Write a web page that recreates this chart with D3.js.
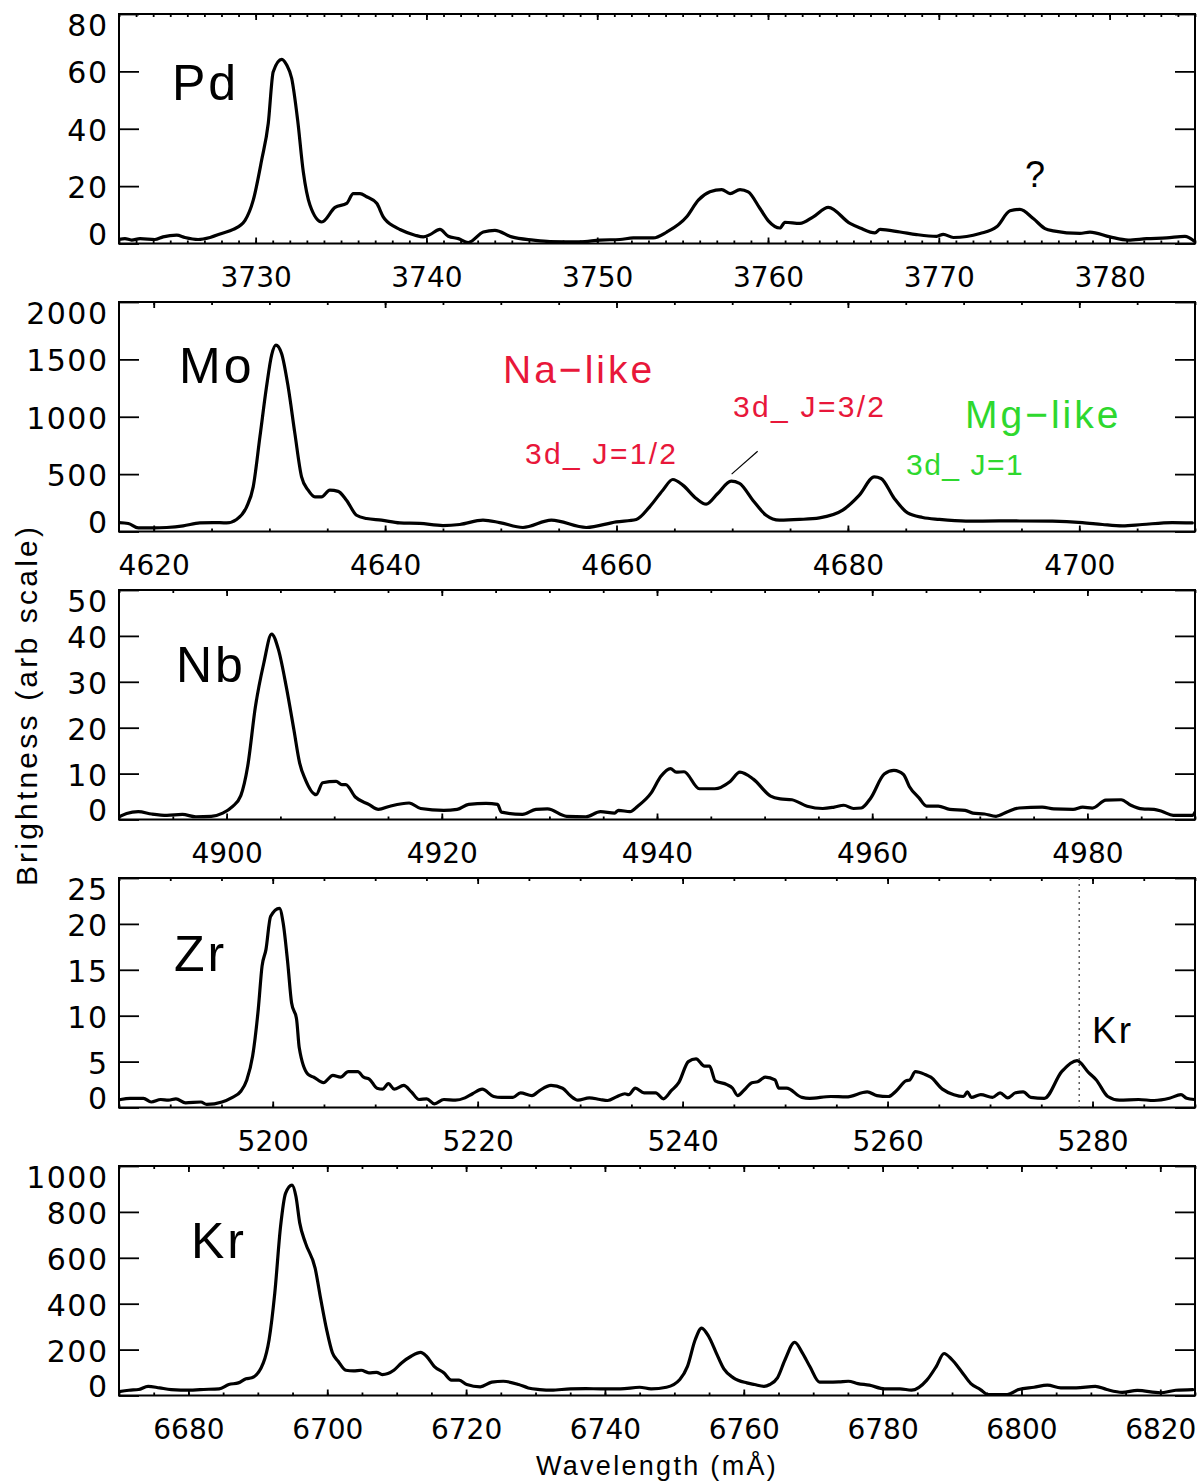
<!DOCTYPE html>
<html><head><meta charset="utf-8">
<script src="https://cdn.jsdelivr.net/npm/d3@7"></script>
<style>
html,body{margin:0;padding:0;background:#fff;}
svg{display:block;}
text{font-family:"Liberation Sans",Arial,sans-serif;fill:#000;}
.num{font-family:"DejaVu Sans","Liberation Sans",sans-serif;}
</style></head><body><svg id="chart" width="1203" height="1484"></svg>
<script>
// ---------------- data (wavelength in mÅ, brightness arb.) ----------------
const pdSpectrum = [[3722.0,1.4],[3722.35,1.7],[3722.74,1.2],[3723.23,1.7],[3724.1,1.4],[3724.58,2.3],[3725.38,2.9],[3725.86,2.1],[3726.63,1.4],[3727.33,2.1],[3728.01,3.5],[3728.69,4.9],[3729.38,8.1],[3729.86,15.1],[3730.35,29],[3730.74,41.9],[3731.03,59.9],[3731.53,64.2],[3731.82,62.2],[3732.11,57.6],[3732.46,43],[3732.79,25],[3733.18,13.4],[3733.87,7.5],[3734.65,12.6],[3735.33,14],[3735.72,17.4],[3736.11,17.4],[3736.5,16.3],[3737.09,14],[3737.47,9.3],[3738.16,5.8],[3738.45,4.9],[3739.33,2.9],[3739.82,2.3],[3740.21,3.1],[3740.79,4.9],[3741.28,2.5],[3741.87,1.7],[3742.45,0.35],[3743.33,4.0],[3744.01,4.6],[3744.99,2.3],[3746.26,1.2],[3747.23,0.7],[3748.99,0.6],[3750.16,1.2],[3751.33,1.4],[3752.11,1.95],[3753.28,1.95],[3754.07,4.0],[3755.24,9.3],[3755.92,15.1],[3756.6,18],[3757.29,18.8],[3757.78,17.4],[3758.36,18.8],[3758.84,18],[3759.53,12.2],[3760.02,7.9],[3760.7,5.4],[3760.99,7.4],[3761.87,7],[3762.65,9.3],[3763.53,12.6],[3764.8,7],[3765.39,5.4],[3766.26,3.7],[3766.56,4.9],[3767.73,4.0],[3768.7,3.1],[3769.87,2.5],[3770.26,3.2],[3770.85,2.1],[3772.41,3.5],[3773.39,5.8],[3774.17,11.4],[3774.75,11.9],[3775.53,8.7],[3776.22,5.2],[3776.7,4.4],[3778.26,3.5],[3778.85,4.0],[3780.02,2.3],[3781.09,1.2],[3782.17,1.7],[3783.34,1.95],[3784.41,2.5],[3785.0,0.6]];

const moSpectrum = [[4617.0,78],[4617.8,70],[4618.67,31],[4619.96,31],[4621.12,35],[4622.55,49],[4623.99,75],[4625.14,78],[4626.3,75],[4627.16,105],[4628.03,215],[4628.6,389],[4629.18,825],[4629.75,1261],[4630.19,1538],[4630.56,1625],[4631.05,1552],[4631.62,1261],[4632.2,855],[4632.78,476],[4633.35,360],[4633.93,302],[4634.5,302],[4635.22,360],[4635.94,350],[4636.66,273],[4637.53,142],[4638.39,113],[4639.69,99],[4641.27,75],[4643.0,70],[4645.0,52],[4646.45,61],[4648.46,99],[4649.9,78],[4651.91,35],[4654.37,99],[4657.39,35],[4659.98,84],[4661.71,105],[4662.86,215],[4664.0,360],[4664.87,453],[4665.73,404],[4666.89,288],[4667.75,238],[4668.75,331],[4669.91,439],[4670.63,419],[4671.78,273],[4672.93,142],[4674.08,99],[4675.81,105],[4677.54,119],[4679.55,186],[4680.99,317],[4682.28,476],[4682.86,462],[4684.01,288],[4685.16,162],[4686.46,122],[4687.9,105],[4690.2,90],[4693.08,92],[4697.68,90],[4700.27,78],[4702.0,61],[4703.73,49],[4705.45,61],[4708.04,78],[4709.77,75]];

const nbSpectrum = [[4890.0,0.6],[4890.71,1.3],[4891.79,1.7],[4893.04,1.2],[4894.46,0.9],[4895.89,1.1],[4897.14,0.6],[4898.57,0.7],[4899.64,1.4],[4900.54,2.8],[4901.32,5.2],[4901.96,11.6],[4902.68,24.6],[4903.46,34.1],[4904.18,40.4],[4904.82,37],[4905.54,29],[4906.25,19.6],[4906.79,12.3],[4907.32,8.7],[4908.32,5.4],[4908.93,8.0],[4910.18,8.3],[4910.71,7.6],[4911.07,7.6],[4911.96,4.9],[4913.21,3.3],[4914.11,2.2],[4915.18,2.9],[4916.96,3.6],[4918.04,2.4],[4920.18,2.0],[4921.43,2.2],[4922.5,3.3],[4924.11,3.5],[4925.18,3.3],[4925.54,1.6],[4927.5,1.1],[4928.75,2.2],[4929.82,2.3],[4931.61,0.7],[4933.39,0.6],[4934.75,1.7],[4936.06,1.4],[4936.42,2.0],[4937.49,1.7],[4938.21,2.9],[4939.46,5.8],[4940.36,9.4],[4941.25,11.1],[4941.79,10.3],[4942.51,10.4],[4943.94,6.7],[4945.37,6.7],[4946.8,8.3],[4947.7,10.3],[4948.95,8.8],[4950.56,5.1],[4951.46,4.5],[4952.53,4.3],[4953.96,2.9],[4955.4,2.4],[4956.47,2.7],[4957.36,3.1],[4958.26,2.4],[4958.98,2.5],[4959.87,4.7],[4961.12,9.9],[4962.02,10.7],[4962.91,9.8],[4963.45,7.2],[4964.35,4.7],[4965.06,2.9],[4966.14,2.9],[4967.21,2.2],[4968.64,2.0],[4969.36,1.4],[4970.43,1.2],[4971.51,0.7],[4972.58,1.7],[4973.66,2.5],[4975.8,2.7],[4976.88,2.3],[4978.67,2.2],[4979.56,2.7],[4980.46,2.5],[4981.71,4.2],[4983.14,4.3],[4984.04,3.1],[4985.11,2.3],[4986.19,2.2],[4986.9,1.8],[4987.98,0.9],[4989.77,0.9],[4990.0,1.6]];

const zrSpectrum = [[5185.16,0.87],[5186.08,1.0],[5187.39,1.0],[5188.14,0.6],[5189.07,0.87],[5189.82,0.8],[5190.56,0.95],[5191.5,0.5],[5192.99,0.6],[5193.56,0.33],[5195.05,0.6],[5195.98,1.05],[5196.91,1.8],[5197.47,3.0],[5198.04,5.6],[5198.59,10.7],[5198.96,15.4],[5199.34,17.2],[5199.79,20.8],[5200.65,21.7],[5201.02,20.1],[5201.47,15.7],[5201.84,11.4],[5202.33,9.6],[5202.59,6.5],[5203.45,3.6],[5204.01,3.3],[5204.95,2.7],[5205.87,3.5],[5206.62,3.3],[5207.38,3.9],[5208.3,3.9],[5208.87,3.3],[5209.42,3.1],[5210.18,2.1],[5210.73,2.0],[5211.29,2.6],[5211.85,2.0],[5212.78,2.4],[5213.53,1.7],[5214.28,0.87],[5215.03,0.95],[5215.78,0.4],[5216.7,0.87],[5217.83,0.8],[5218.76,1.05],[5219.5,1.5],[5220.44,2.0],[5221.56,1.2],[5222.31,1.1],[5223.43,1.1],[5224.18,1.6],[5225.3,1.3],[5226.04,1.85],[5227.16,2.4],[5228.29,2.1],[5229.03,1.3],[5229.78,0.8],[5230.9,1.05],[5231.93,0.87],[5232.68,0.76],[5233.62,1.2],[5234.37,1.5],[5234.74,1.4],[5235.38,2.1],[5236.24,1.6],[5237.37,1.6],[5238.12,0.95],[5238.87,1.8],[5239.62,2.7],[5240.56,5.0],[5241.31,5.3],[5242.14,4.5],[5242.63,4.5],[5243.19,2.9],[5244.32,2.5],[5244.88,2.1],[5245.37,1.3],[5246.01,1.9],[5246.76,2.7],[5247.32,2.8],[5248.07,3.3],[5249.01,3.0],[5249.39,2.1],[5250.14,2.1],[5251.64,1.1],[5252.39,1.0],[5254.46,1.2],[5255.96,1.15],[5258.02,1.7],[5258.96,1.3],[5260.09,1.2],[5260.84,1.8],[5261.78,2.9],[5262.16,3.0],[5262.72,3.9],[5263.66,3.6],[5264.22,3.3],[5265.35,2.0],[5266.47,1.4],[5267.41,1.2],[5267.79,1.7],[5268.17,1.1],[5269.1,1.4],[5270.23,1.1],[5270.98,1.6],[5271.73,1.05],[5272.48,1.6],[5273.23,1.7],[5273.98,1.1],[5275.3,1.0],[5276.99,3.9],[5278.49,5.1],[5279.62,3.8],[5280.37,3.0],[5281.49,1.2],[5282.62,0.8],[5284.5,0.87],[5286.0,0.76],[5287.5,1.0],[5288.63,1.4],[5289.19,1.0],[5289.94,0.87]];

const krSpectrum = [[6669.88,16],[6671.43,23],[6672.81,26],[6674.19,40],[6675.85,33],[6677.51,26],[6680.28,23],[6681.66,26],[6684.42,29],[6685.81,48],[6687.19,55],[6688.3,73],[6689.13,77],[6690.79,142],[6691.62,243],[6692.44,446],[6693.27,736],[6693.99,881],[6694.93,917],[6695.49,867],[6696.04,751],[6696.87,664],[6698.25,555],[6699.08,417],[6699.91,287],[6700.74,186],[6701.57,149],[6702.68,110],[6703.78,107],[6704.89,110],[6705.99,99],[6707.1,101],[6707.93,91],[6709.59,110],[6710.7,142],[6712.08,171],[6713.46,188],[6714.29,171],[6715.4,127],[6716.78,99],[6717.89,67],[6718.99,67],[6720.1,48],[6722.04,38],[6723.7,58],[6725.35,62],[6727.57,48],[6728.95,33],[6730.61,26],[6732.27,23],[6735.03,29],[6737.25,30],[6739.4,29],[6742.24,29],[6745.0,36],[6746.65,29],[6748.86,36],[6750.79,70],[6751.89,127],[6753.0,243],[6753.93,294],[6754.93,258],[6756.03,186],[6757.13,116],[6758.51,77],[6760.44,55],[6761.54,48],[6762.92,40],[6763.75,48],[6764.85,77],[6765.96,157],[6767.34,232],[6768.44,186],[6769.54,125],[6770.92,58],[6772.02,58],[6773.68,59],[6775.06,62],[6776.44,52],[6778.09,45],[6780.3,29],[6782.5,29],[6784.16,23],[6786.37,67],[6787.74,127],[6788.85,183],[6789.95,157],[6791.33,106],[6792.71,52],[6794.09,26],[6795.19,4],[6797.95,4],[6799.6,26],[6801.81,36],[6803.74,45],[6805.67,33],[6807.88,33],[6810.64,40],[6812.29,26],[6814.5,14],[6816.7,22],[6820.01,12],[6822.22,23],[6824.7,26]];

const panelNames = ["Pd","Mo","Nb","Zr","Kr"];
const spectra = [pdSpectrum, moSpectrum, nbSpectrum, zrSpectrum, krSpectrum];
const xDomains = [[3722,3785],[4617,4710],[4890,4990],[5185,5290],[6670,6825]];
const yDomains = [[0,80],[0,2000],[0,50],[0,25],[0,1000]];
const xTickLabels = [[3730,3740,3750,3760,3770,3780],[4620,4640,4660,4680,4700],[4900,4920,4940,4960,4980],[5200,5220,5240,5260,5280],[6680,6700,6720,6740,6760,6780,6800,6820]];
const xMinorStep = [1,5,5,5,5];
const yTickLabels = [[0,20,40,60,80],[0,500,1000,1500,2000],[0,10,20,30,40,50],[0,5,10,15,20,25],[0,200,400,600,800,1000]];
const krMarkerWave = 5278.7;
const yTitle = "Brightness  (arb  scale)";
const xTitle = "Wavelength (m\u00C5)";

// ---------------- drawing ----------------
const svg = d3.select("#chart");
svg.append("rect").attr("width",1203).attr("height",1484).attr("fill","#fff");
const left = 119, right = 1195, panelH = 229.5, panelStep = 288, firstTop = 14;
const RED = "#e8173a", GREEN = "#2ed82e";

const scales = [];
panelNames.forEach((name, i) => {
  const top = firstTop + panelStep * i, bottom = top + panelH;
  const x = d3.scaleLinear().domain(xDomains[i]).range([left, right]);
  const y = d3.scaleLinear().domain(yDomains[i]).range([bottom, top]);
  scales.push({x, y, top, bottom});
  const g = svg.append("g");

  g.append("clipPath").attr("id","clip"+i).append("rect")
    .attr("x",left).attr("y",top).attr("width",right-left).attr("height",panelH);

  const minors = d3.range(Math.ceil(xDomains[i][0]/xMinorStep[i])*xMinorStep[i], xDomains[i][1]+1e-9, xMinorStep[i]);
  g.append("g").attr("transform",`translate(0,${bottom})`)
    .call(d3.axisBottom(x).tickValues(minors).tickSize(-3).tickFormat(""));
  g.append("g").attr("transform",`translate(0,${top})`)
    .call(d3.axisTop(x).tickValues(minors).tickSize(-3).tickFormat(""));
  g.append("g").attr("transform",`translate(0,${bottom})`)
    .call(d3.axisBottom(x).tickValues(xTickLabels[i]).tickSize(-6).tickFormat(""));
  g.append("g").attr("transform",`translate(0,${top})`)
    .call(d3.axisTop(x).tickValues(xTickLabels[i]).tickSize(-6).tickFormat(""));
  g.append("g").attr("transform",`translate(${left},0)`)
    .call(d3.axisLeft(y).tickValues(yTickLabels[i]).tickSize(-20).tickFormat(""));
  g.append("g").attr("transform",`translate(${right},0)`)
    .call(d3.axisRight(y).tickValues(yTickLabels[i]).tickSize(-20).tickFormat(""));
  g.selectAll(".domain").remove();
  g.selectAll(".tick line").attr("stroke","#000").attr("stroke-width",1.8);

  g.append("rect").attr("x",left).attr("y",top).attr("width",right-left).attr("height",panelH)
    .attr("fill","none").attr("stroke","#000").attr("stroke-width",2);

  g.selectAll(".xl").data(xTickLabels[i]).enter().append("text")
    .attr("class","num")
    .attr("x", d => x(d) + 0.5).attr("y", bottom + 43)
    .attr("text-anchor","middle").attr("font-size",28)
    .text(d => d);
  const yt = yTickLabels[i], n = yt.length;
  g.selectAll(".yl").data(yt).enter().append("text")
    .attr("class","num")
    .attr("x", 107 + 1.5).attr("y", (d,k) => y(d) + 11 + (k === 0 ? -10 : (k === n-1 ? 11 : 1)))
    .attr("text-anchor","end").attr("font-size",30).style("letter-spacing","1.5px")
    .text(d => d);

  const line = d3.line().x(d => x(d[0])).y(d => y(d[1])).curve(d3.curveMonotoneX);
  g.append("path").datum(spectra[i]).attr("d", line)
    .attr("clip-path",`url(#clip${i})`)
    .attr("fill","none").attr("stroke","#000").attr("stroke-width",3.2)
    .attr("stroke-linejoin","round").attr("stroke-linecap","round");
});

const nameBase = [[172,100],[179,383],[176,682],[174,971],[191,1258]];
panelNames.forEach((nm,i) => {
  svg.append("text").attr("x",nameBase[i][0]).attr("y",nameBase[i][1])
    .attr("font-size",50).style("letter-spacing","3px").text(nm);
});

svg.append("text").attr("x",1035).attr("y",187).attr("text-anchor","middle")
  .attr("font-size",36).text("?");

const mo = scales[1];
svg.append("text").attr("x",503).attr("y",383).attr("font-size",39)
  .style("fill",RED).style("letter-spacing","3px").text("Na\u2212like");
svg.append("text").attr("x",525).attr("y",464).attr("font-size",30)
  .style("fill",RED).style("letter-spacing","2.3px").text("3d_  J=1/2");
svg.append("text").attr("x",733).attr("y",417).attr("font-size",30)
  .style("fill",RED).style("letter-spacing","2.3px").text("3d_  J=3/2");
svg.append("line")
  .attr("x1",mo.x(4672.2)).attr("y1",mo.y(700)).attr("x2",mo.x(4669.95)).attr("y2",mo.y(500))
  .attr("stroke","#000").attr("stroke-width",1.2);
svg.append("text").attr("x",965).attr("y",428).attr("font-size",39)
  .style("fill",GREEN).style("letter-spacing","3px").text("Mg\u2212like");
svg.append("text").attr("x",906).attr("y",475).attr("font-size",30)
  .style("fill",GREEN).style("letter-spacing","1.5px").text("3d_  J=1");

const zr = scales[3];
svg.append("line").attr("x1",zr.x(krMarkerWave)).attr("x2",zr.x(krMarkerWave))
  .attr("y1",zr.top).attr("y2",zr.bottom)
  .attr("stroke","#444").attr("stroke-width",1.3).attr("stroke-dasharray","2,4");
svg.append("text").attr("x",1092).attr("y",1043).attr("font-size",37)
  .style("letter-spacing","2px").text("Kr");

svg.append("text").attr("transform","translate(37,705) rotate(-90)")
  .attr("text-anchor","middle").attr("font-size",30).style("letter-spacing","3.2px").text(yTitle);
svg.append("text").attr("x",657).attr("y",1475).attr("text-anchor","middle")
  .attr("font-size",27).style("letter-spacing","2.3px").text(xTitle);
</script></body></html>
